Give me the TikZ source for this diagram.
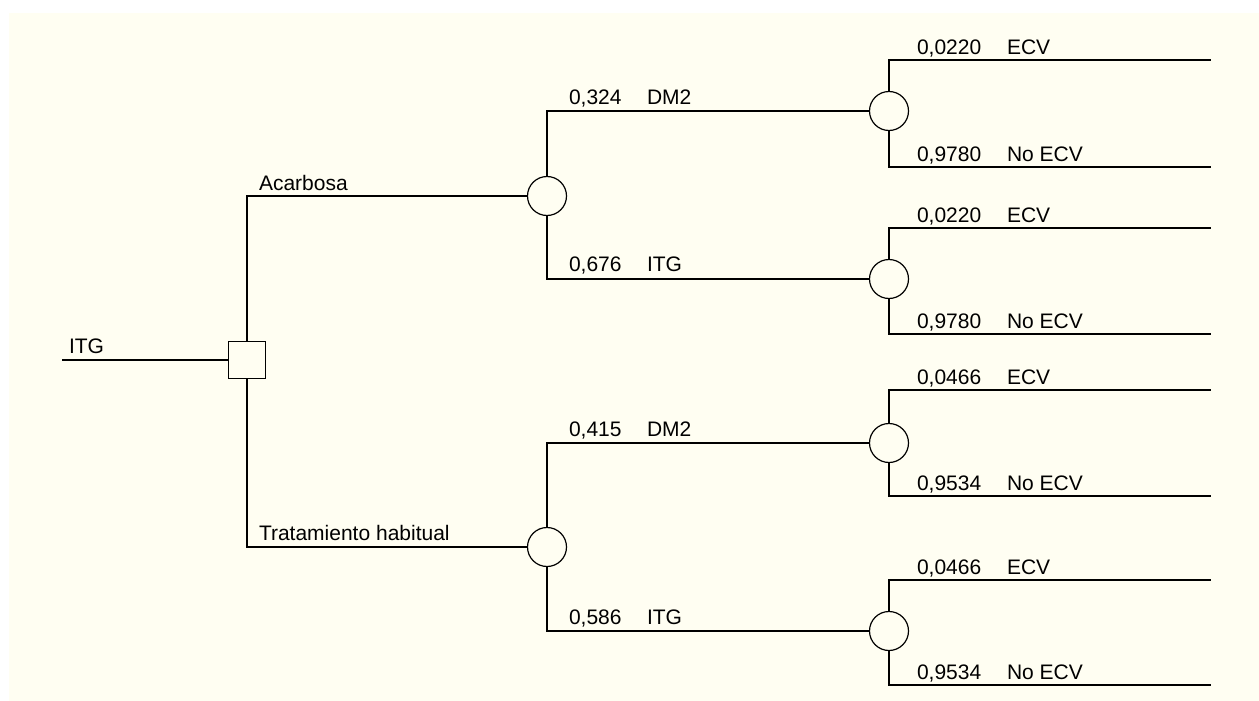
\documentclass[tikz,border=0pt]{standalone}
\usepackage{fontspec}
\setmainfont{Liberation Sans}
\usetikzlibrary{calc}
\definecolor{fondo}{RGB}{255,254,242}

\begin{document}
\begin{tikzpicture}[x=1pt, y=-1pt, font=\fontsize{21}{25}\selectfont, line width=2pt]

    % --- Paramètres ---
    \def\xD{247}     % noeud de décision
    \def\xA{547}     % hasard, niveau 1
    \def\xB{889}     % hasard, niveau 2
    \def\xF{1211}    % fin des branches
    \def\xP{916}     % probabilités finales
    \def\xN{1006}    % noms finaux

    % --- Styles ---
    \tikzstyle{decision} = [draw, fill=fondo, rectangle, minimum size=37pt, inner sep=0pt, line width=1.2pt]
    \tikzstyle{chance} = [draw, fill=fondo, circle, minimum size=39pt, inner sep=0pt, line width=1.2pt]
    \tikzstyle{rama} = [anchor=base west, inner sep=0pt]

    \useasboundingbox (0,0) rectangle (1259,701);
    \fill[fondo] (9,13) rectangle (1259,701);

    % --- Noeuds ---
    \coordinate (raiz) at (62,360);
    \node[decision] (D) at (\xD,360) {};
    \node[chance] (A) at (\xA,196) {};
    \node[chance] (T) at (\xA,547) {};
    \node[chance] (AD) at (\xB,111) {};
    \node[chance] (AI) at (\xB,279) {};
    \node[chance] (TD) at (\xB,443) {};
    \node[chance] (TI) at (\xB,631) {};

    % --- Fins des branches ---
    \coordinate (ADe) at (\xF,60);
    \coordinate (ADn) at (\xF,167);
    \coordinate (AIe) at (\xF,228);
    \coordinate (AIn) at (\xF,334);
    \coordinate (TDe) at (\xF,390);
    \coordinate (TDn) at (\xF,496);
    \coordinate (TIe) at (\xF,580);
    \coordinate (TIn) at (\xF,685);

    % --- Branches ---
    \draw (raiz) -- (D);
    \draw (D) |- (A);
    \draw (D) |- (T);
    \draw (A) |- (AD);
    \draw (A) |- (AI);
    \draw (T) |- (TD);
    \draw (T) |- (TI);
    \draw (AD) |- (ADe);
    \draw (AD) |- (ADn);
    \draw (AI) |- (AIe);
    \draw (AI) |- (AIn);
    \draw (TD) |- (TDe);
    \draw (TD) |- (TDn);
    \draw (TI) |- (TIe);
    \draw (TI) |- (TIn);

    % --- Étiquettes ---
    \node[rama] (lraiz) at (68,353) {ITG};
    \node[rama] (lA) at (258,190) {Acarbosa};
    \node[rama] (lT) at (258,540) {Tratamiento habitual};

    \node[rama] (pAD) at (568,105) {0,324};
    \node[rama] (nAD) at (646,105) {DM2};
    \node[rama] (pAI) at (568,271) {0,676};
    \node[rama] (nAI) at (646,271) {ITG};
    \node[rama] (pTD) at (568,436) {0,415};
    \node[rama] (nTD) at (646,436) {DM2};
    \node[rama] (pTI) at (568,624) {0,586};
    \node[rama] (nTI) at (646,624) {ITG};

    \node[rama] (pADe) at (\xP,54.5) {0,0220};
    \node[rama] (nADe) at (\xN,54.5) {ECV};
    \node[rama] (pADn) at (\xP,161.5) {0,9780};
    \node[rama] (nADn) at (\xN,161.5) {No ECV};
    \node[rama] (pAIe) at (\xP,222.5) {0,0220};
    \node[rama] (nAIe) at (\xN,222.5) {ECV};
    \node[rama] (pAIn) at (\xP,328.5) {0,9780};
    \node[rama] (nAIn) at (\xN,328.5) {No ECV};
    \node[rama] (pTDe) at (\xP,384.5) {0,0466};
    \node[rama] (nTDe) at (\xN,384.5) {ECV};
    \node[rama] (pTDn) at (\xP,490.5) {0,9534};
    \node[rama] (nTDn) at (\xN,490.5) {No ECV};
    \node[rama] (pTIe) at (\xP,574.5) {0,0466};
    \node[rama] (nTIe) at (\xN,574.5) {ECV};
    \node[rama] (pTIn) at (\xP,679.5) {0,9534};
    \node[rama] (nTIn) at (\xN,679.5) {No ECV};

\end{tikzpicture}
\end{document}
